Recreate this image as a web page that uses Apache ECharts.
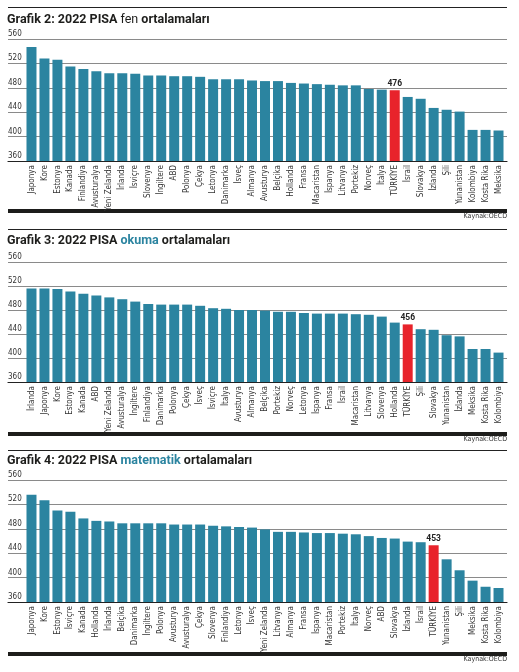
<!DOCTYPE html>
<html>
<head>
<meta charset="utf-8">
<script src="https://cdn.jsdelivr.net/npm/echarts@6/dist/echarts.min.js"></script>
<style>
  html, body { margin: 0; padding: 0; background: #fff; }
  #container { width: 519px; height: 672px; }
</style>
</head>
<body>
<div id="container"></div>
<script>
/* PISA 2022 averages (OECD) */
var fenCountries = ['Japonya', 'Kore', 'Estonya', 'Kanada', 'Finlandiya', 'Avusturalya', 'Yeni Zelanda', 'İrlanda', 'İsviçre',
  'Slovenya', 'İngiltere', 'ABD', 'Polonya', 'Çekya', 'Letonya', 'Danimarka', 'İsveç', 'Almanya', 'Avusturya', 'Belçika',
  'Hollanda', 'Fransa', 'Macaristan', 'İspanya', 'Litvanya', 'Portekiz', 'Norveç', 'İtalya', 'TÜRKİYE', 'İsrail',
  'Slovakya', 'İzlanda', 'Şili', 'Yunanistan', 'Kolombiya', 'Kosta Rika', 'Meksika'];
var fenScores = [547, 528, 526, 515, 511, 507, 504, 504, 503, 500, 500, 499, 499, 498, 494, 494, 494, 492, 491, 491,
  488, 487, 486, 485, 484, 484, 478, 477, 476, 465, 462, 447, 444, 441, 411, 411, 410];

var okumaCountries = ['İrlanda', 'Japonya', 'Kore', 'Estonya', 'Kanada', 'ABD', 'Yeni Zelanda', 'Avusturalya', 'İngiltere',
  'Finlandiya', 'Danimarka', 'Polonya', 'Çekya', 'İsveç', 'İsviçre', 'İtalya', 'Avusturya', 'Almanya', 'Belçika',
  'Portekiz', 'Norveç', 'Letonya', 'İspanya', 'Fransa', 'İsrail', 'Macaristan', 'Litvanya', 'Slovenya', 'Hollanda',
  'TÜRKİYE', 'Şili', 'Slovakya', 'Yunanistan', 'İzlanda', 'Meksika', 'Kosta Rika', 'Kolombiya'];
var okumaScores = [516, 516, 515, 511, 507, 504, 501, 498, 494, 490, 489, 489, 489, 487, 483, 482, 480, 480, 479,
  477, 477, 475, 474, 474, 474, 473, 472, 469, 459, 456, 448, 447, 438, 436, 415, 415, 409];

var matCountries = ['Japonya', 'Kore', 'Estonya', 'İsviçre', 'Kanada', 'Hollanda', 'İrlanda', 'Belçika', 'Danimarka',
  'İngiltere', 'Polonya', 'Avusturya', 'Avusturalya', 'Çekya', 'Slovenya', 'Finlandiya', 'Letonya', 'İsveç',
  'Yeni Zelanda', 'Litvanya', 'Almanya', 'Fransa', 'İspanya', 'Macaristan', 'Portekiz', 'İtalya', 'Norveç', 'ABD',
  'Slovakya', 'İzlanda', 'İsrail', 'TÜRKİYE', 'Yunanistan', 'Şili', 'Meksika', 'Kosta Rika', 'Kolombiya'];
var matScores = [536, 527, 510, 508, 497, 493, 492, 489, 489, 489, 489, 487, 487, 487, 485, 484, 483, 482,
  479, 475, 475, 474, 473, 473, 472, 471, 468, 465, 464, 459, 458, 453, 430, 412, 395, 385, 383];

var yTicks = [360, 400, 440, 480, 520, 560];

var TEAL = '#2b84a0';
var RED = '#e8232b';
var DARK = '#1d1d1b';
var LABEL_FONT = '"DejaVu Sans Condensed", "Roboto", sans-serif';
var TITLE_FONT = '"Roboto", "Open Sans", sans-serif';

var dom = document.getElementById('container');
var myChart = echarts.init(dom, null, { renderer: 'canvas' });

// one panel per chart: where it sits on the page
var panels = [
  { no: 2, subject: 'fen', subjColor: DARK, subjWeight: 'normal', countries: fenCountries, scores: fenScores,
    rule: 7, titleTop: 13, top: 39, bottom: 161, thick: 209, source: 213 },
  { no: 3, subject: 'okuma', subjColor: TEAL, subjWeight: 'bold', countries: okumaCountries, scores: okumaScores,
    rule: 229, titleTop: 234, top: 262, bottom: 382, thick: 432, source: 436 },
  { no: 4, subject: 'matematik', subjColor: TEAL, subjWeight: 'bold', countries: matCountries, scores: matScores,
    rule: 450, titleTop: 454, top: 480, bottom: 602, thick: 652, source: 656 }
];

var grids = [], xAxes = [], yAxes = [], series = [], titles = [], graphics = [];

panels.forEach(function (p, i) {
  var h = p.bottom - p.top;
  // background grid: gridlines + labels across full width
  grids.push({ left: 8, width: 499, top: p.top, height: h });
  // bar grid
  grids.push({ left: 25, width: 480, top: p.top, height: h });

  xAxes.push({
    gridIndex: i * 2, type: 'value', min: 0, max: 1, show: true,
    axisLine: { show: true, onZero: false, lineStyle: { color: '#222', width: 1.2 } },
    axisTick: { show: false }, axisLabel: { show: false }, splitLine: { show: false }
  });
  xAxes.push({
    gridIndex: i * 2 + 1, type: 'category', data: p.countries,
    axisLine: { show: false }, axisTick: { show: false },
    axisLabel: {
      rotate: 90, interval: 0, margin: 4, fontSize: 8, color: '#333', fontFamily: LABEL_FONT
    }
  });

  yAxes.push({
    gridIndex: i * 2, type: 'value', min: 360, max: 560, interval: 40,
    axisLine: { show: false }, axisTick: { show: false },
    axisLabel: {
      inside: true, margin: 0, verticalAlign: 'bottom', padding: [0, 0, 1, 0],
      fontSize: 8, color: '#333', fontFamily: LABEL_FONT,
      formatter: function (v) { return yTicks.indexOf(v) >= 0 ? String(v) : ''; }
    },
    splitLine: { show: true, lineStyle: { color: '#8a8a8a', width: 1 } }
  });
  yAxes.push({
    gridIndex: i * 2 + 1, type: 'value', min: 360, max: 560, interval: 40,
    show: false, splitLine: { show: false }
  });

  var tr = p.countries.indexOf('TÜRKİYE');
  series.push({
    type: 'bar', xAxisIndex: i * 2 + 1, yAxisIndex: i * 2 + 1,
    barCategoryGap: '23%',
    data: p.scores.map(function (v, k) {
      if (k === tr) {
        return {
          value: v, itemStyle: { color: RED },
          label: {
            show: true, position: 'top', distance: 2, fontSize: 8.5, fontWeight: 'bold',
            color: '#222', fontFamily: '"Roboto", sans-serif'
          }
        };
      }
      return v;
    }),
    itemStyle: { color: TEAL },
    silent: true,
    z: 3
  });

  titles.push({
    left: 7, top: p.titleTop, padding: 0,
    text: '{a|Grafik ' + p.no + ': 2022 PISA }{b|' + p.subject + '}{a| ortalamaları}',
    textStyle: {
      rich: {
        a: { fontSize: 12.5, fontWeight: 'bold', color: DARK, fontFamily: TITLE_FONT },
        b: { fontSize: 12.5, fontWeight: p.subjWeight, color: p.subjColor, fontFamily: TITLE_FONT }
      }
    }
  });

  graphics.push({ type: 'rect', shape: { x: 8, y: p.rule, width: 499, height: 1 }, style: { fill: '#222' } });
  graphics.push({ type: 'rect', shape: { x: 8, y: p.thick, width: 499, height: 4 }, style: { fill: DARK } });
  graphics.push({
    type: 'text', right: 12, top: p.source,
    style: { text: 'Kaynak:OECD', fontSize: 7, fill: '#333', fontFamily: LABEL_FONT }
  });
});

var option = {
  backgroundColor: '#fff',
  animation: false,
  title: titles,
  grid: grids,
  xAxis: xAxes,
  yAxis: yAxes,
  series: series,
  graphic: graphics
};

myChart.setOption(option);
</script>
</body>
</html>
